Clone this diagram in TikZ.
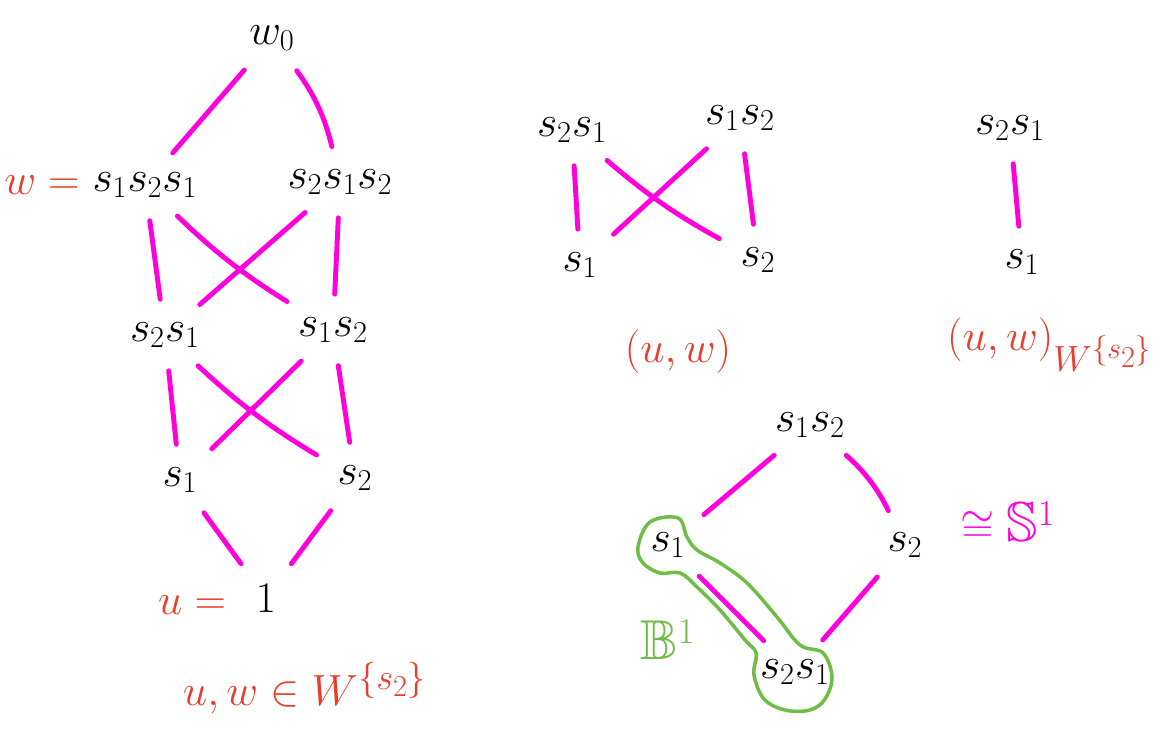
\documentclass[tikz,border=0pt]{standalone}
\usepackage{amsmath,amssymb}
\usepackage{xcolor}
\usepackage{tikz}
\definecolor{penmagenta}{RGB}{255,0,220}
\definecolor{penred}{RGB}{234,60,40}
\definecolor{pengreen}{RGB}{110,190,70}
\tikzset{
  elt/.style={inner sep=4pt, font=\fontsize{26}{30}\selectfont},
  lbl/.style={text=penred, font=\fontsize{28}{32}\selectfont},
  cov/.style={penmagenta, line width=2.8pt, line cap=round, shorten <=9pt, shorten >=9pt},
}

\begin{document}
\begin{tikzpicture}[x=0.02cm, y=-0.02cm]
    \useasboundingbox (0,0) rectangle (1160,749);
    % whole interval [1,w_0]
    \node[elt] (top) at (272,38) {$w_0$};
    \node[elt] (lA) at (145,185) {$s_1s_2s_1$};
    \node[elt] (lB) at (340,182) {$s_2s_1s_2$};
    \node[elt] (lC) at (165,335) {$s_2s_1$};
    \node[elt] (lD) at (333,330) {$s_1s_2$};
    \node[elt] (lE) at (180,480) {$s_1$};
    \node[elt] (lF) at (355,478) {$s_2$};
    \node[elt] (one) at (266,598) {$1$};
    \node[lbl] (wlbl) at (42,185) {$w=$};
    \node[lbl] (ulbl) at (192,605) {$u=$};
    \node[lbl, font=\fontsize{32}{36}\selectfont] (inlbl) at (305,688) {$u,w\in W^{\{s_2\}}$};
    \draw[cov] (top) -- (lA);
    \draw[cov] (top) to[bend left=12] (lB);
    \draw[cov] (lA) -- (lC);
    \draw[cov] (lA) to[bend right=6] (lD);
    \draw[cov] (lB) -- (lC);
    \draw[cov] (lB) -- (lD);
    \draw[cov] (lC) -- (lE);
    \draw[cov] (lC) to[bend right=6] (lF);
    \draw[cov] (lD) -- (lE);
    \draw[cov] (lD) -- (lF);
    \draw[cov] (lE) -- (one);
    \draw[cov] (lF) -- (one);

    % the interval (u,w)
    \node[elt] (mC) at (572,130) {$s_2s_1$};
    \node[elt] (mD) at (740,118) {$s_1s_2$};
    \node[elt] (mE) at (580,265) {$s_1$};
    \node[elt] (mF) at (758,260) {$s_2$};
    \node[lbl, font=\fontsize{32}{36}\selectfont] (mlbl) at (678,352) {$(u,w)$};
    \draw[cov] (mC) -- (mE);
    \draw[cov] (mC) to[bend right=6] (mF);
    \draw[cov] (mD) -- (mE);
    \draw[cov] (mD) -- (mF);

    % the interval in W^{s_2}
    \node[elt] (rC) at (1010,128) {$s_2s_1$};
    \node[elt] (rE) at (1022,262) {$s_1$};
    \node[lbl, font=\fontsize{32}{36}\selectfont] (rlbl) at (1050,345) {$(u,w)_{W^{\{s_2\}}}$};
    \draw[cov] (rC) -- (rE);

    % the circle
    \node[elt] (bD) at (810,425) {$s_1s_2$};
    \node[elt] (bE) at (668,545) {$s_1$};
    \node[elt] (bF) at (905,545) {$s_2$};
    \node[elt] (bC) at (795,672) {$s_2s_1$};
    \draw[cov] (bD) -- (bE);
    \draw[cov] (bD) to[bend left=12] (bF);
    \draw[cov] (bF) -- (bC);
    \draw[cov] (bE) -- (bC);
    \draw[pengreen, line width=2pt] plot[smooth cycle, tension=0.6] coordinates {
      (638,547) (650,522) (678,518) (687,537) (697,550) (720,563) (747,583)
      (777,617) (800,645) (823,653) (832,677) (825,699) (810,710) (785,710)
      (764,699) (754,675) (756,653) (745,640) (720,610) (697,587) (680,573)
      (660,573) (643,563)};
    \node[text=pengreen, font=\fontsize{32}{36}\selectfont] (ball) at (668,640) {$\mathbb{B}^1$};
    \node[text=penmagenta, font=\fontsize{32}{36}\selectfont, inner sep=0pt] (sph) at (1008,522) {$\cong\mathbb{S}^1$};
  \end{tikzpicture}
\end{document}
